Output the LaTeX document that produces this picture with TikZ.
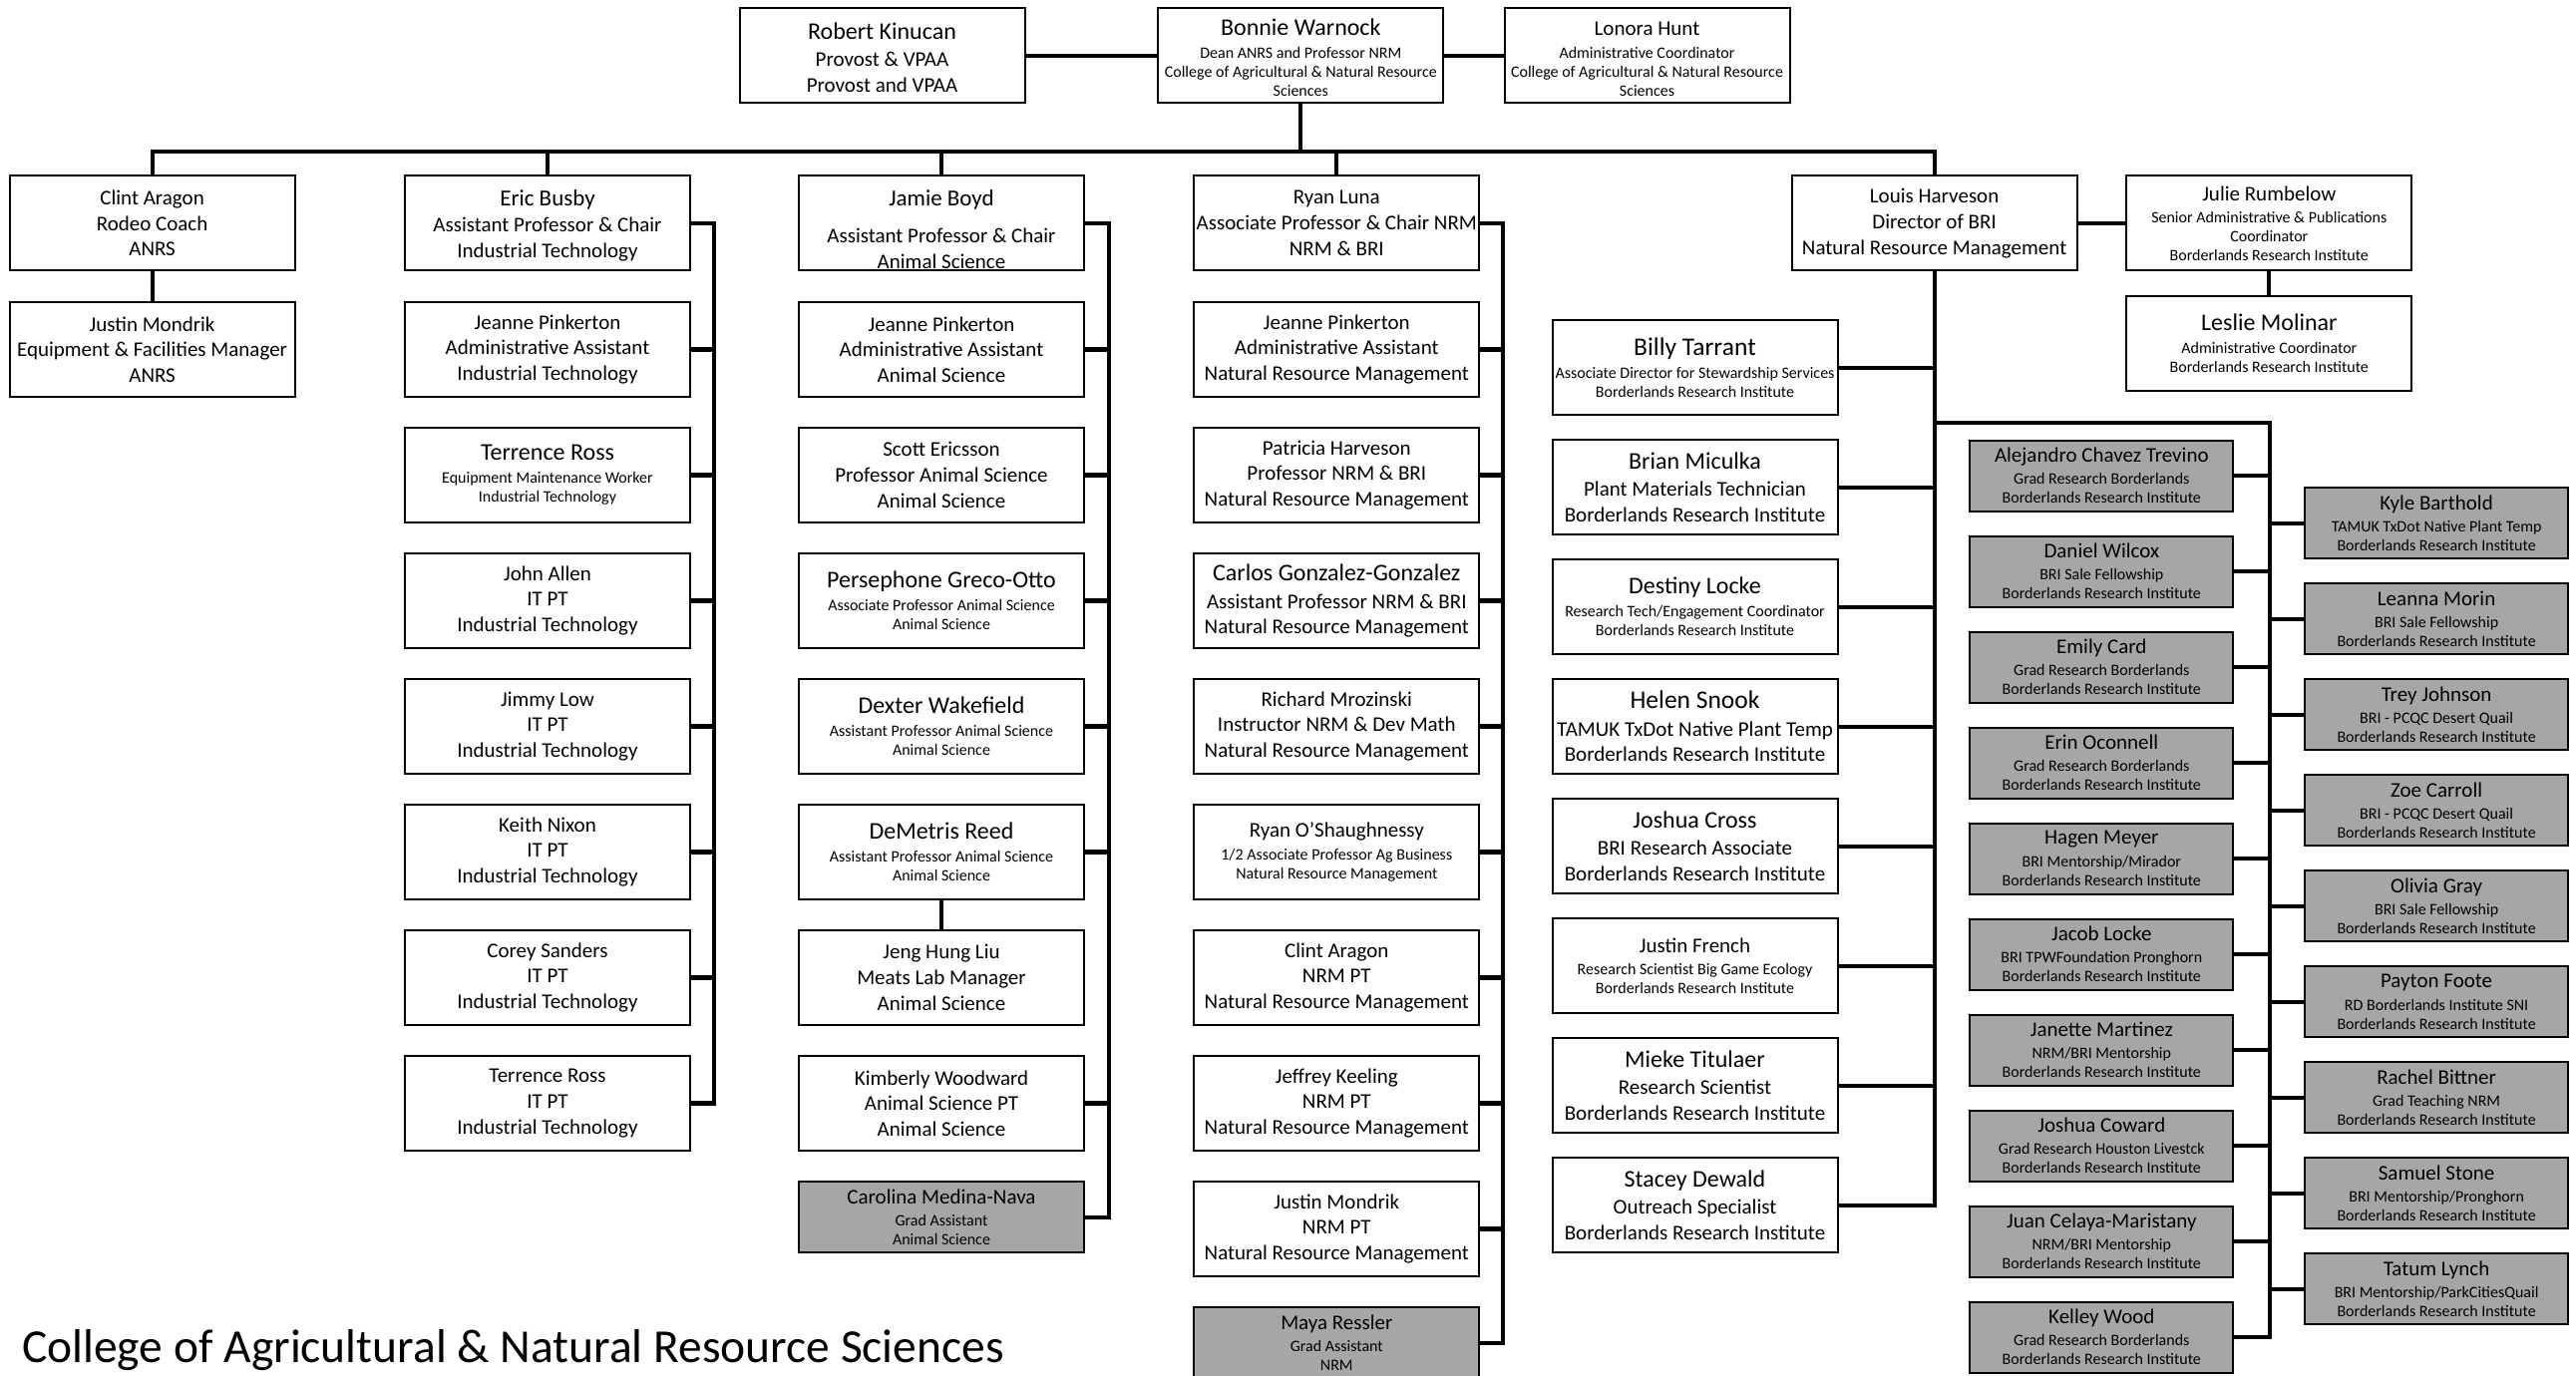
\documentclass[tikz,border=0pt]{standalone}
\usepackage{fontspec}
\setmainfont{Carlito}
\definecolor{boxgray}{HTML}{A6A6A6}
\newcommand\Nm[1]{{\fontsize{24}{28}\selectfont #1}}
\newcommand\Nb[1]{{\fontsize{25.5}{30}\selectfont #1}}
\newcommand\Md[1]{{\fontsize{21}{25}\selectfont #1}}
\tikzset{
  box/.style={draw=black, line width=2pt, rectangle, inner sep=0pt, align=center,
    minimum width=286pt, minimum height=95pt, fill=white},
  gbox/.style={box, fill=boxgray, minimum width=264pt, minimum height=71pt},
  gwide/.style={box, fill=boxgray, minimum height=71pt},
  mthree/.style={font=\fontsize{21}{25.7}\selectfont},
  nmm/.style={font=\fontsize{21}{25.5}\selectfont},
  ss/.style={font=\fontsize{16}{19}\selectfont},
  conn/.style={line width=4.2pt, line join=miter},
}
\begin{document}
\begin{tikzpicture}[x=1pt,y=-1pt]
\fill[white] (0,0) rectangle (2583,1380);
\useasboundingbox (0,0) rectangle (2583,1380);

% ---------- top row
\node[box,nmm] (robert) at (884.5,56) {\rule{0pt}{20pt}\Nm{Robert Kinucan}\\[2pt] Provost \& VPAA\\ Provost and VPAA};
\node[box,ss] (bonnie) at (1304.3,56) {\rule{0pt}{21pt}\Nm{Bonnie Warnock}\\[4pt] Dean ANRS and Professor NRM\\ College of Agricultural \& Natural Resource\\ Sciences};
\node[box,ss] (lonora) at (1651.5,56) {\rule{0pt}{20pt}\Md{Lonora Hunt}\\[4pt] Administrative Coordinator\\ College of Agricultural \& Natural Resource\\ Sciences};

% ---------- second row
\node[box,mthree] (clint) at (152.6,224) {Clint Aragon\\ Rodeo Coach\\ ANRS};
\node[box,nmm] (eric) at (549,224) {\rule{0pt}{20pt}{\fontsize{23}{27}\selectfont Eric Busby}\\[1pt] Assistant Professor \& Chair\\ Industrial Technology};
\node[box,nmm] (jamie) at (944,224) {\rule{0pt}{28pt}{\fontsize{23}{27}\selectfont Jamie Boyd}\\[12pt] Assistant Professor \& Chair\\ Animal Science};
\node[box,mthree] (ryan) at (1340.3,224) {Ryan Luna\\ Associate Professor \& Chair NRM\\ NRM \& BRI};
\node[box,mthree] (louis) at (1939.6,224) {Louis Harveson\\ Director of BRI\\ Natural Resource Management};
\node[box,ss] (julie) at (2275.3,224) {\Md{Julie Rumbelow}\\[3pt] Senior Administrative \& Publications\\ Coordinator\\ Borderlands Research Institute};
\node[box,ss] (leslie) at (2275.3,344.5) {\Nm{Leslie Molinar}\\[4pt] Administrative Coordinator\\ Borderlands Research Institute};

% ---------- Clint column
\node[box,mthree] (jm1) at (152.6,350.5) {Justin Mondrik\\ Equipment \& Facilities Manager\\ ANRS};

% ---------- Eric column
\node[box,mthree] (jp1) at (549,350.5) {Jeanne Pinkerton\\ Administrative Assistant\\ Industrial Technology};
\node[box,ss] (tr1) at (549,476.5) {\Nm{Terrence Ross}\\[4pt] Equipment Maintenance Worker\\ Industrial Technology};
\node[box,mthree] (ja) at (549,602.5) {John Allen\\ IT PT\\ Industrial Technology};
\node[box,mthree] (jl) at (549,728.5) {Jimmy Low\\ IT PT\\ Industrial Technology};
\node[box,mthree] (kn) at (549,854.5) {Keith Nixon\\ IT PT\\ Industrial Technology};
\node[box,mthree] (cs) at (549,980.5) {Corey Sanders\\ IT PT\\ Industrial Technology};
\node[box,mthree] (tr2) at (549,1106.5) {Terrence Ross\\ IT PT\\ Industrial Technology};

% ---------- Jamie column
\node[box,mthree] (jp2) at (944,350.5) {Jeanne Pinkerton\\ Administrative Assistant\\ Animal Science};
\node[box,mthree] (se) at (944,476.5) {Scott Ericsson\\ Professor Animal Science\\ Animal Science};
\node[box,ss] (pg) at (944,602.5) {\Nm{Persephone Greco-Otto}\\[4pt] Associate Professor Animal Science\\ Animal Science};
\node[box,ss] (dw) at (944,728.5) {\Nm{Dexter Wakefield}\\[4pt] Assistant Professor Animal Science\\ Animal Science};
\node[box,ss] (dr) at (944,854.5) {\Nm{DeMetris Reed}\\[4pt] Assistant Professor Animal Science\\ Animal Science};
\node[box,mthree] (jh) at (944,980.5) {Jeng Hung Liu\\ Meats Lab Manager\\ Animal Science};
\node[box,mthree] (kw) at (944,1106.5) {Kimberly Woodward\\ Animal Science PT\\ Animal Science};
\node[gwide,ss] (cm) at (944,1220.6) {\Md{Carolina Medina-Nava}\\[3.5pt] Grad Assistant\\ Animal Science};

% ---------- Ryan column
\node[box,mthree] (jp3) at (1340.3,350.5) {Jeanne Pinkerton\\ Administrative Assistant\\ Natural Resource Management};
\node[box,mthree] (ph) at (1340.3,476.5) {Patricia Harveson\\ Professor NRM \& BRI\\ Natural Resource Management};
\node[box,nmm] (cg) at (1340.3,602.5) {\Nm{Carlos Gonzalez-Gonzalez}\\[2pt] Assistant Professor NRM \& BRI\\ Natural Resource Management};
\node[box,mthree] (rm) at (1340.3,728.5) {Richard Mrozinski\\ Instructor NRM \& Dev Math\\ Natural Resource Management};
\node[box,ss] (ro) at (1340.3,854.5) {\Md{Ryan O'Shaughnessy}\\[4pt] 1/2 Associate Professor Ag Business\\ Natural Resource Management};
\node[box,mthree] (ca) at (1340.3,980.5) {Clint Aragon\\ NRM PT\\ Natural Resource Management};
\node[box,mthree] (jk) at (1340.3,1106.5) {Jeffrey Keeling\\ NRM PT\\ Natural Resource Management};
\node[box,mthree] (jm2) at (1340.3,1232.5) {Justin Mondrik\\ NRM PT\\ Natural Resource Management};
\node[gwide,ss] (mr) at (1340.3,1346.6) {\Md{Maya Ressler}\\[3.5pt] Grad Assistant\\ NRM};

% ---------- BRI staff column
\node[box,ss] (bt) at (1699.5,368.7) {\Nb{Billy Tarrant}\\[4pt] Associate Director for Stewardship Services\\ Borderlands Research Institute};
\node[box,nmm] (bm) at (1699.5,488.7) {\Nm{Brian Miculka}\\[2pt] Plant Materials Technician\\ Borderlands Research Institute};
\node[box,ss] (dl) at (1699.5,608.7) {\Nm{Destiny Locke}\\[4pt] Research Tech/Engagement Coordinator\\ Borderlands Research Institute};
\node[box,nmm] (hs) at (1699.5,728.7) {\Nb{Helen Snook}\\[2pt] TAMUK TxDot Native Plant Temp\\ Borderlands Research Institute};
\node[box,nmm] (jc) at (1699.5,848.7) {\Nm{Joshua Cross}\\[2pt] BRI Research Associate\\ Borderlands Research Institute};
\node[box,ss] (jf) at (1699.5,968.7) {\Md{Justin French}\\[3pt] Research Scientist Big Game Ecology\\ Borderlands Research Institute};
\node[box,nmm] (mt) at (1699.5,1088.7) {\Nm{Mieke Titulaer}\\[2pt] Research Scientist\\ Borderlands Research Institute};
\node[box,nmm] (sd) at (1699.5,1208.7) {\Nm{Stacey Dewald}\\[2pt] Outreach Specialist\\ Borderlands Research Institute};

% ---------- graduate students, left
\node[gbox,ss] (g1) at (2107.3,477) {\Md{Alejandro Chavez Trevino}\\[3.5pt] Grad Research Borderlands\\ Borderlands Research Institute};
\node[gbox,ss] (g2) at (2107.3,573) {\Md{Daniel Wilcox}\\[3.5pt] BRI Sale Fellowship\\ Borderlands Research Institute};
\node[gbox,ss] (g3) at (2107.3,669) {\Md{Emily Card}\\[3.5pt] Grad Research Borderlands\\ Borderlands Research Institute};
\node[gbox,ss] (g4) at (2107.3,765) {\Md{Erin Oconnell}\\[3.5pt] Grad Research Borderlands\\ Borderlands Research Institute};
\node[gbox,ss] (g5) at (2107.3,861) {\Md{Hagen Meyer}\\[3.5pt] BRI Mentorship/Mirador\\ Borderlands Research Institute};
\node[gbox,ss] (g6) at (2107.3,957) {\Md{Jacob Locke}\\[3.5pt] BRI TPWFoundation Pronghorn\\ Borderlands Research Institute};
\node[gbox,ss] (g7) at (2107.3,1053) {\Md{Janette Martinez}\\[3.5pt] NRM/BRI Mentorship\\ Borderlands Research Institute};
\node[gbox,ss] (g8) at (2107.3,1149) {\Md{Joshua Coward}\\[3.5pt] Grad Research Houston Livestck\\ Borderlands Research Institute};
\node[gbox,ss] (g9) at (2107.3,1245) {\Md{Juan Celaya-Maristany}\\[3.5pt] NRM/BRI Mentorship\\ Borderlands Research Institute};
\node[gbox,ss] (g10) at (2107.3,1341) {\Md{Kelley Wood}\\[3.5pt] Grad Research Borderlands\\ Borderlands Research Institute};

% ---------- graduate students, right
\node[gbox,ss] (h1) at (2443.1,524.6) {\Md{Kyle Barthold}\\[3.5pt] TAMUK TxDot Native Plant Temp\\ Borderlands Research Institute};
\node[gbox,ss] (h2) at (2443.1,620.6) {\Md{Leanna Morin}\\[3.5pt] BRI Sale Fellowship\\ Borderlands Research Institute};
\node[gbox,ss] (h3) at (2443.1,716.6) {\Md{Trey Johnson}\\[3.5pt] BRI - PCQC Desert Quail\\ Borderlands Research Institute};
\node[gbox,ss] (h4) at (2443.1,812.6) {\Md{Zoe Carroll}\\[3.5pt] BRI - PCQC Desert Quail\\ Borderlands Research Institute};
\node[gbox,ss] (h5) at (2443.1,908.6) {\Md{Olivia Gray}\\[3.5pt] BRI Sale Fellowship\\ Borderlands Research Institute};
\node[gbox,ss] (h6) at (2443.1,1004.6) {\Md{Payton Foote}\\[3.5pt] RD Borderlands Institute SNI\\ Borderlands Research Institute};
\node[gbox,ss] (h7) at (2443.1,1100.6) {\Md{Rachel Bittner}\\[3.5pt] Grad Teaching NRM\\ Borderlands Research Institute};
\node[gbox,ss] (h8) at (2443.1,1196.6) {\Md{Samuel Stone}\\[3.5pt] BRI Mentorship/Pronghorn\\ Borderlands Research Institute};
\node[gbox,ss] (h9) at (2443.1,1292.6) {\Md{Tatum Lynch}\\[3.5pt] BRI Mentorship/ParkCitiesQuail\\ Borderlands Research Institute};

% ---------- title
\node[anchor=base west, inner sep=0pt, font=\fontsize{47.5}{57}\selectfont] (title) at (22,1366) {College of Agricultural \& Natural Resource Sciences};

% ---------- connectors
\coordinate (busR) at (1939.6,152);
\coordinate (brE) at (716,1106.5);
\coordinate (brJ) at (1112,1220.6);
\coordinate (brR) at (1507,1346.6);
\coordinate (gT) at (1939.6,424);
\coordinate (brG) at (2276,1341);

\draw[conn] (robert.east) -- (bonnie.west);
\draw[conn] (bonnie.east) -- (lonora.west);
\draw[conn] (clint.north) |- (busR) -- (louis.north);
\draw[conn] (bonnie.south) -- (bonnie.south |- busR);
\draw[conn] (eric.north) -- (eric.north |- busR);
\draw[conn] (jamie.north) -- (jamie.north |- busR);
\draw[conn] (ryan.north) -- (ryan.north |- busR);
\draw[conn] (louis.east) -- (julie.west);
\draw[conn] (julie.south) -- (leslie.north);
\draw[conn] (clint.south) -- (jm1.north);

% Eric
\draw[conn] (eric.east) -| (brE) -- (tr2.east);
\foreach \n in {jp1,tr1,ja,jl,kn,cs} \draw[conn] (\n.east) -- (\n.east -| brE);
% Jamie
\draw[conn] (jamie.east) -| (brJ) -- (cm.east);
\foreach \n in {jp2,se,pg,dw,dr,kw} \draw[conn] (\n.east) -- (\n.east -| brJ);
\draw[conn] (dr.south) -- (jh.north);
% Ryan
\draw[conn] (ryan.east) -| (brR) -- (mr.east);
\foreach \n in {jp3,ph,cg,rm,ro,ca,jk,jm2} \draw[conn] (\n.east) -- (\n.east -| brR);
% Louis
\draw[conn] (louis.south) |- (sd.east);
\foreach \n in {bt,bm,dl,hs,jc,jf,mt} \draw[conn] (\n.east) -- (\n.east -| gT);
% graduate students
\draw[conn] (gT) -| (brG) -- (g10.east);
\foreach \n in {g1,g2,g3,g4,g5,g6,g7,g8,g9} \draw[conn] (\n.east) -- (\n.east -| brG);
\foreach \n in {h1,h2,h3,h4,h5,h6,h7,h8,h9} \draw[conn] (\n.west) -- (\n.west -| brG);
\end{tikzpicture}
\end{document}
